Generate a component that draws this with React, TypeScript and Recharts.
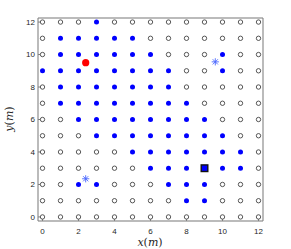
import { ScatterChart, Scatter, XAxis, YAxis, CartesianGrid, ReferenceArea } from "recharts";

// grid 0..12 in both directions; filled points listed per row (y)
const gridValues = [0, 1, 2, 3, 4, 5, 6, 7, 8, 9, 10, 11, 12];
const axisTicks = [0, 2, 4, 6, 8, 10, 12];

const filledByRow: Record<number, number[]> = {
  12: [3],
  11: [1, 2, 3, 4, 5],
  10: [1, 2, 3, 4, 5, 6, 10],
  9: [0, 1, 2, 3, 4, 5, 6, 7, 10],
  8: [1, 2, 3, 4, 5, 6, 7],
  7: [1, 2, 3, 4, 5, 6, 7, 8],
  6: [2, 3, 4, 5, 6, 7, 8, 9],
  5: [3, 4, 5, 6, 7, 8, 9, 10],
  4: [5, 6, 7, 8, 9, 10, 11],
  3: [6, 7, 8, 9, 10, 11],
  2: [2, 3, 7, 8, 9],
  1: [8, 9],
  0: [],
};

const redPoint = [{ x: 2.4, y: 9.5 }];
const starPoints = [
  { x: 9.6, y: 9.55 },
  { x: 2.4, y: 2.35 },
];
const squarePoint = [{ x: 9, y: 3 }];

const filledPoints: { x: number; y: number }[] = [];
const openPoints: { x: number; y: number }[] = [];
gridValues.forEach((y) => {
  gridValues.forEach((x) => {
    if ((filledByRow[y] || []).includes(x)) filledPoints.push({ x, y });
    else openPoints.push({ x, y });
  });
});

const OpenDot = (p: any) => (
  <circle cx={p.cx} cy={p.cy} r={2.2} fill="#fff" stroke="#3a3a3a" strokeWidth={0.85} />
);
const BlueDot = (p: any) => <circle cx={p.cx} cy={p.cy} r={2.5} fill="#0000ff" />;
const RedDot = (p: any) => <circle cx={p.cx} cy={p.cy} r={3.6} fill="#ff0000" />;
const Star = (p: any) => {
  const s = 3.6;
  const d = s * 0.72;
  return (
    <g stroke="#4a66ff" strokeWidth={0.9}>
      <line x1={p.cx - s} y1={p.cy} x2={p.cx + s} y2={p.cy} />
      <line x1={p.cx} y1={p.cy - s} x2={p.cx} y2={p.cy + s} />
      <line x1={p.cx - d} y1={p.cy - d} x2={p.cx + d} y2={p.cy + d} />
      <line x1={p.cx - d} y1={p.cy + d} x2={p.cx + d} y2={p.cy - d} />
    </g>
  );
};
const Square = (p: any) => (
  <rect x={p.cx - 3.3} y={p.cy - 3.3} width={6.6} height={6.6} fill="#0000ff" stroke="#111" strokeWidth={1.4} />
);

const tickStyle = { fontSize: 8, fill: "#262626", fontFamily: "Liberation Sans, Arial, sans-serif" };
const empty = () => <g />;
const dom: [number, number] = [-0.25, 12.25];
const frame = "#808080";

export default function App() {
  return (
    <div style={{ position: "absolute", left: 0, top: 0, width: 291, height: 249, background: "#fff" }}>
      <ScatterChart width={291} height={249} margin={{ top: 18, right: 28, bottom: 0, left: 0 }}>
        <CartesianGrid stroke="#e8e8e8" strokeWidth={0.8} />
        <XAxis
          xAxisId="b"
          type="number"
          dataKey="x"
          domain={dom}
          ticks={axisTicks}
          allowDataOverflow
          height={28}
          axisLine={false}
          stroke={frame}
          tickSize={-3}
          tickMargin={10}
          tick={tickStyle}
        />
        <XAxis
          xAxisId="t"
          orientation="top"
          type="number"
          dataKey="x"
          domain={dom}
          ticks={axisTicks}
          allowDataOverflow
          height={0}
          axisLine={false}
          stroke={frame}
          tickSize={-3}
          tick={empty}
        />
        <YAxis
          yAxisId="l"
          type="number"
          dataKey="y"
          domain={dom}
          ticks={axisTicks}
          allowDataOverflow
          width={38}
          axisLine={false}
          stroke={frame}
          tickSize={-3}
          tickMargin={6}
          tick={tickStyle}
        />
        <YAxis
          yAxisId="r"
          orientation="right"
          type="number"
          dataKey="y"
          domain={dom}
          ticks={axisTicks}
          allowDataOverflow
          width={0}
          axisLine={false}
          stroke={frame}
          tickSize={-3}
          tick={empty}
        />
        <ReferenceArea
          xAxisId="b"
          yAxisId="l"
          x1={dom[0]}
          x2={dom[1]}
          y1={dom[0]}
          y2={dom[1]}
          fill="none"
          stroke={frame}
          strokeWidth={1}
          ifOverflow="visible"
        />
        <Scatter xAxisId="b" yAxisId="l" data={openPoints} shape={OpenDot} isAnimationActive={false} />
        <Scatter xAxisId="b" yAxisId="l" data={filledPoints} shape={BlueDot} isAnimationActive={false} />
        <Scatter xAxisId="b" yAxisId="l" data={squarePoint} shape={Square} isAnimationActive={false} />
        <Scatter xAxisId="b" yAxisId="l" data={redPoint} shape={RedDot} isAnimationActive={false} />
        <Scatter xAxisId="b" yAxisId="l" data={starPoints} shape={Star} isAnimationActive={false} />
        <text x={150} y={246} textAnchor="middle" fontSize={11} fill="#262626" fontFamily="DejaVu Serif, serif">
          <tspan fontStyle="italic">x</tspan>
          <tspan>(</tspan>
          <tspan fontStyle="italic">m</tspan>
          <tspan>)</tspan>
        </text>
        <text
          x={0}
          y={0}
          transform="translate(13,119) rotate(-90)"
          textAnchor="middle"
          fontSize={11}
          fill="#262626"
          fontFamily="DejaVu Serif, serif"
        >
          <tspan fontStyle="italic">y</tspan>
          <tspan>(</tspan>
          <tspan fontStyle="italic">m</tspan>
          <tspan>)</tspan>
        </text>
      </ScatterChart>
    </div>
  );
}
